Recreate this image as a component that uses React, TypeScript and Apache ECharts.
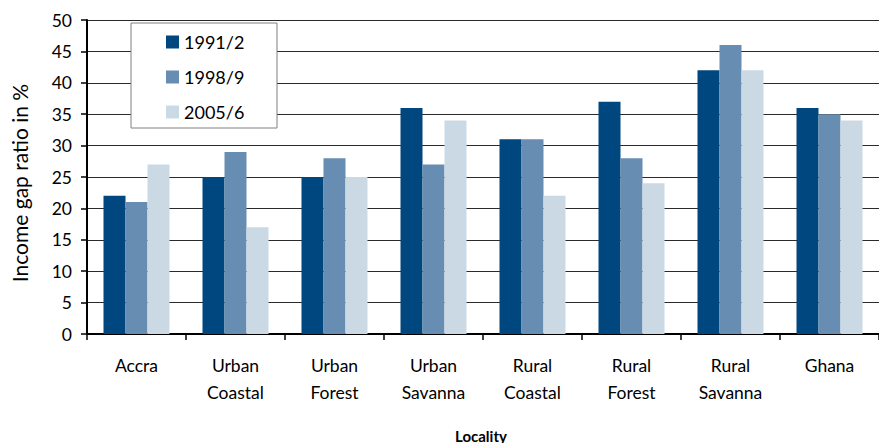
import React, { useEffect, useRef } from "react";
import * as echarts from "echarts";

const categories = [
  "Accra",
  "Urban\nCoastal",
  "Urban\nForest",
  "Urban\nSavanna",
  "Rural\nCoastal",
  "Rural\nForest",
  "Rural\nSavanna",
  "Ghana",
];
const seriesNames = ["1991/2", "1998/9", "2005/6"];
const values1991 = [22, 25, 25, 36, 31, 37, 42, 36];
const values1998 = [21, 29, 28, 27, 31, 28, 46, 35];
const values2005 = [27, 17, 25, 34, 22, 24, 42, 34];
const colors = ["#00467f", "#678db2", "#cbd9e5"];

const FONT = "Lato, 'Open Sans', sans-serif";

export default function App() {
  const ref = useRef<HTMLDivElement>(null);

  useEffect(() => {
    if (!ref.current) return;
    const chart = echarts.init(ref.current, undefined, { renderer: "svg" });
    const data = [values1991, values1998, values2005];
    chart.setOption({
      animation: false,
      textStyle: { fontFamily: FONT, color: "#000" },
      grid: { left: 87, top: 20, width: 800, height: 314 },
      legend: {
        orient: "vertical",
        left: 131,
        top: 23,
        padding: [9, 20, 6, 35],
        itemWidth: 13,
        itemHeight: 13,
        itemGap: 15,
        icon: "rect",
        z: 10,
        textStyle: { fontSize: 18, lineHeight: 20, color: "#000", fontFamily: FONT },
        data: seriesNames,
      },
      graphic: [
        {
          type: "rect",
          z: 5,
          shape: { x: 131, y: 23, width: 146, height: 105 },
          style: { fill: "#fff", stroke: "#808080", lineWidth: 1 },
        },
        {
          // vertical y-axis title
          type: "text",
          x: 19,
          y: 183,
          rotation: Math.PI / 2,
          style: {
            text: "Income gap ratio in %",
            fontFamily: FONT,
            fontSize: 21,
            fill: "#000",
            textAlign: "center",
            textVerticalAlign: "middle",
          },
        },
        {
          type: "text",
          left: 455,
          top: 428,
          style: {
            text: "Locality",
            fontFamily: FONT,
            fontSize: 15,
            fontWeight: "bold",
            fill: "#000",
          },
        },
      ],
      xAxis: {
        type: "category",
        data: categories,
        axisLine: { lineStyle: { color: "#000", width: 2 } },
        axisTick: { show: true, length: 6, lineStyle: { color: "#000", width: 1.5 } },
        axisLabel: {
          fontSize: 17.5,
          lineHeight: 27,
          margin: 18,
          color: "#000",
          fontFamily: FONT,
          interval: 0,
        },
      },
      yAxis: {
        type: "value",
        min: 0,
        max: 50,
        interval: 5,
        axisLine: { show: true, lineStyle: { color: "#000", width: 2 } },
        axisTick: { show: true, length: 6, lineStyle: { color: "#000", width: 1.5 } },
        axisLabel: { fontSize: 17.5, margin: 15, color: "#000", fontFamily: FONT },
        splitLine: { show: true, lineStyle: { color: "#2a2a2a", width: 1 } },
      },
      series: seriesNames.map((name, i) => ({
        name,
        type: "bar",
        data: data[i],
        barWidth: 22,
        barGap: "0%",
        itemStyle: { color: colors[i] },
      })),
    });
    return () => chart.dispose();
  }, []);

  return (
    <div
      ref={ref}
      style={{ position: "absolute", left: 0, top: 0, width: 879, height: 443 }}
    />
  );
}
